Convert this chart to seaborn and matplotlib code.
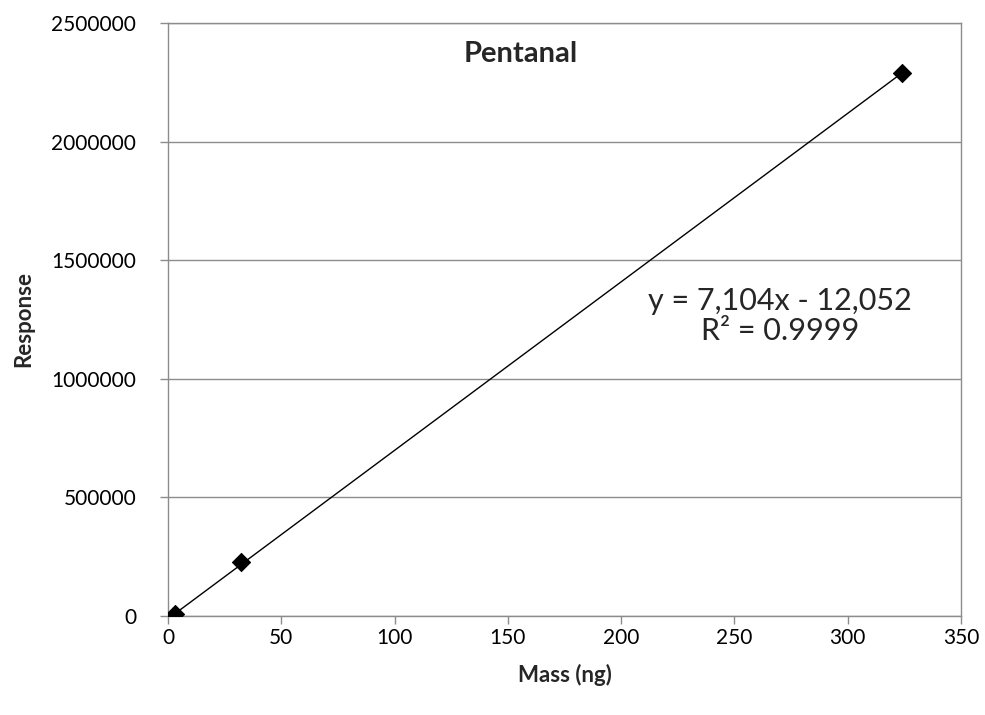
import matplotlib
matplotlib.use("Agg")
import matplotlib.pyplot as plt
import seaborn as sns
import pandas as pd
import numpy as np

# Calibration data for pentanal
mass_ng = [3.24, 32.4, 324.0]
response = [9000, 226000, 2290000]

# Linear trendline coefficients (as shown in the label)
slope = 7104
intercept = -12052
equation_label = "y = 7,104x - 12,052"
r2_label = "R² = 0.9999"

x_ticks = [0, 50, 100, 150, 200, 250, 300, 350]
y_ticks = [0, 500000, 1000000, 1500000, 2000000, 2500000]

sns.set_style("white")
plt.rcParams["font.family"] = ["Lato", "DejaVu Sans"]

fig = plt.figure(figsize=(9.85, 7.15), dpi=100)
ax = fig.add_axes([0.1706, 0.1385, 0.8050, 0.8293])

df = pd.DataFrame({"Mass (ng)": mass_ng, "Response": response})

# Trendline over the range of the data
x_line = np.array([min(mass_ng), max(mass_ng)])
line_df = pd.DataFrame({"x": x_line, "y": slope * x_line + intercept})
sns.lineplot(data=line_df, x="x", y="y", ax=ax, color="black", linewidth=1.0, zorder=3)

sns.scatterplot(data=df, x="Mass (ng)", y="Response", ax=ax, marker="D", s=85,
                color="black", edgecolor="black", zorder=4)

ax.set_xlim(0, 350)
ax.set_ylim(0, 2500000)
ax.set_xticks(x_ticks)
ax.set_yticks(y_ticks)
ax.set_xticklabels([str(v) for v in x_ticks])
ax.set_yticklabels([str(v) for v in y_ticks])

grid_color = "#8c8c8c"
ax.yaxis.grid(True, color=grid_color, linewidth=1.0)
ax.xaxis.grid(False)
ax.set_axisbelow(True)
for side in ["left", "bottom", "right", "top"]:
    ax.spines[side].set_visible(True)
    ax.spines[side].set_color(grid_color)
    ax.spines[side].set_linewidth(1.0)

ax.tick_params(axis="both", which="major", direction="out", length=6, width=1,
               color=grid_color, labelsize=15, labelcolor="black",
               bottom=True, left=True)
ax.tick_params(axis="x", pad=3)
ax.tick_params(axis="y", pad=17)

ax.set_xlabel("Mass (ng)", fontsize=16, fontweight="bold", labelpad=11)
ax.set_ylabel("Response", fontsize=16, fontweight="bold", labelpad=12)

ax.text(0.445, 0.948, "Pentanal", transform=ax.transAxes, ha="center", va="center",
        fontsize=21, fontweight="bold")
ax.text(0.772, 0.531, equation_label, transform=ax.transAxes, ha="center", va="center",
        fontsize=22)
ax.text(0.772, 0.480, r2_label, transform=ax.transAxes, ha="center", va="center",
        fontsize=22)

fig.savefig("out.png", dpi=100, facecolor="white")
